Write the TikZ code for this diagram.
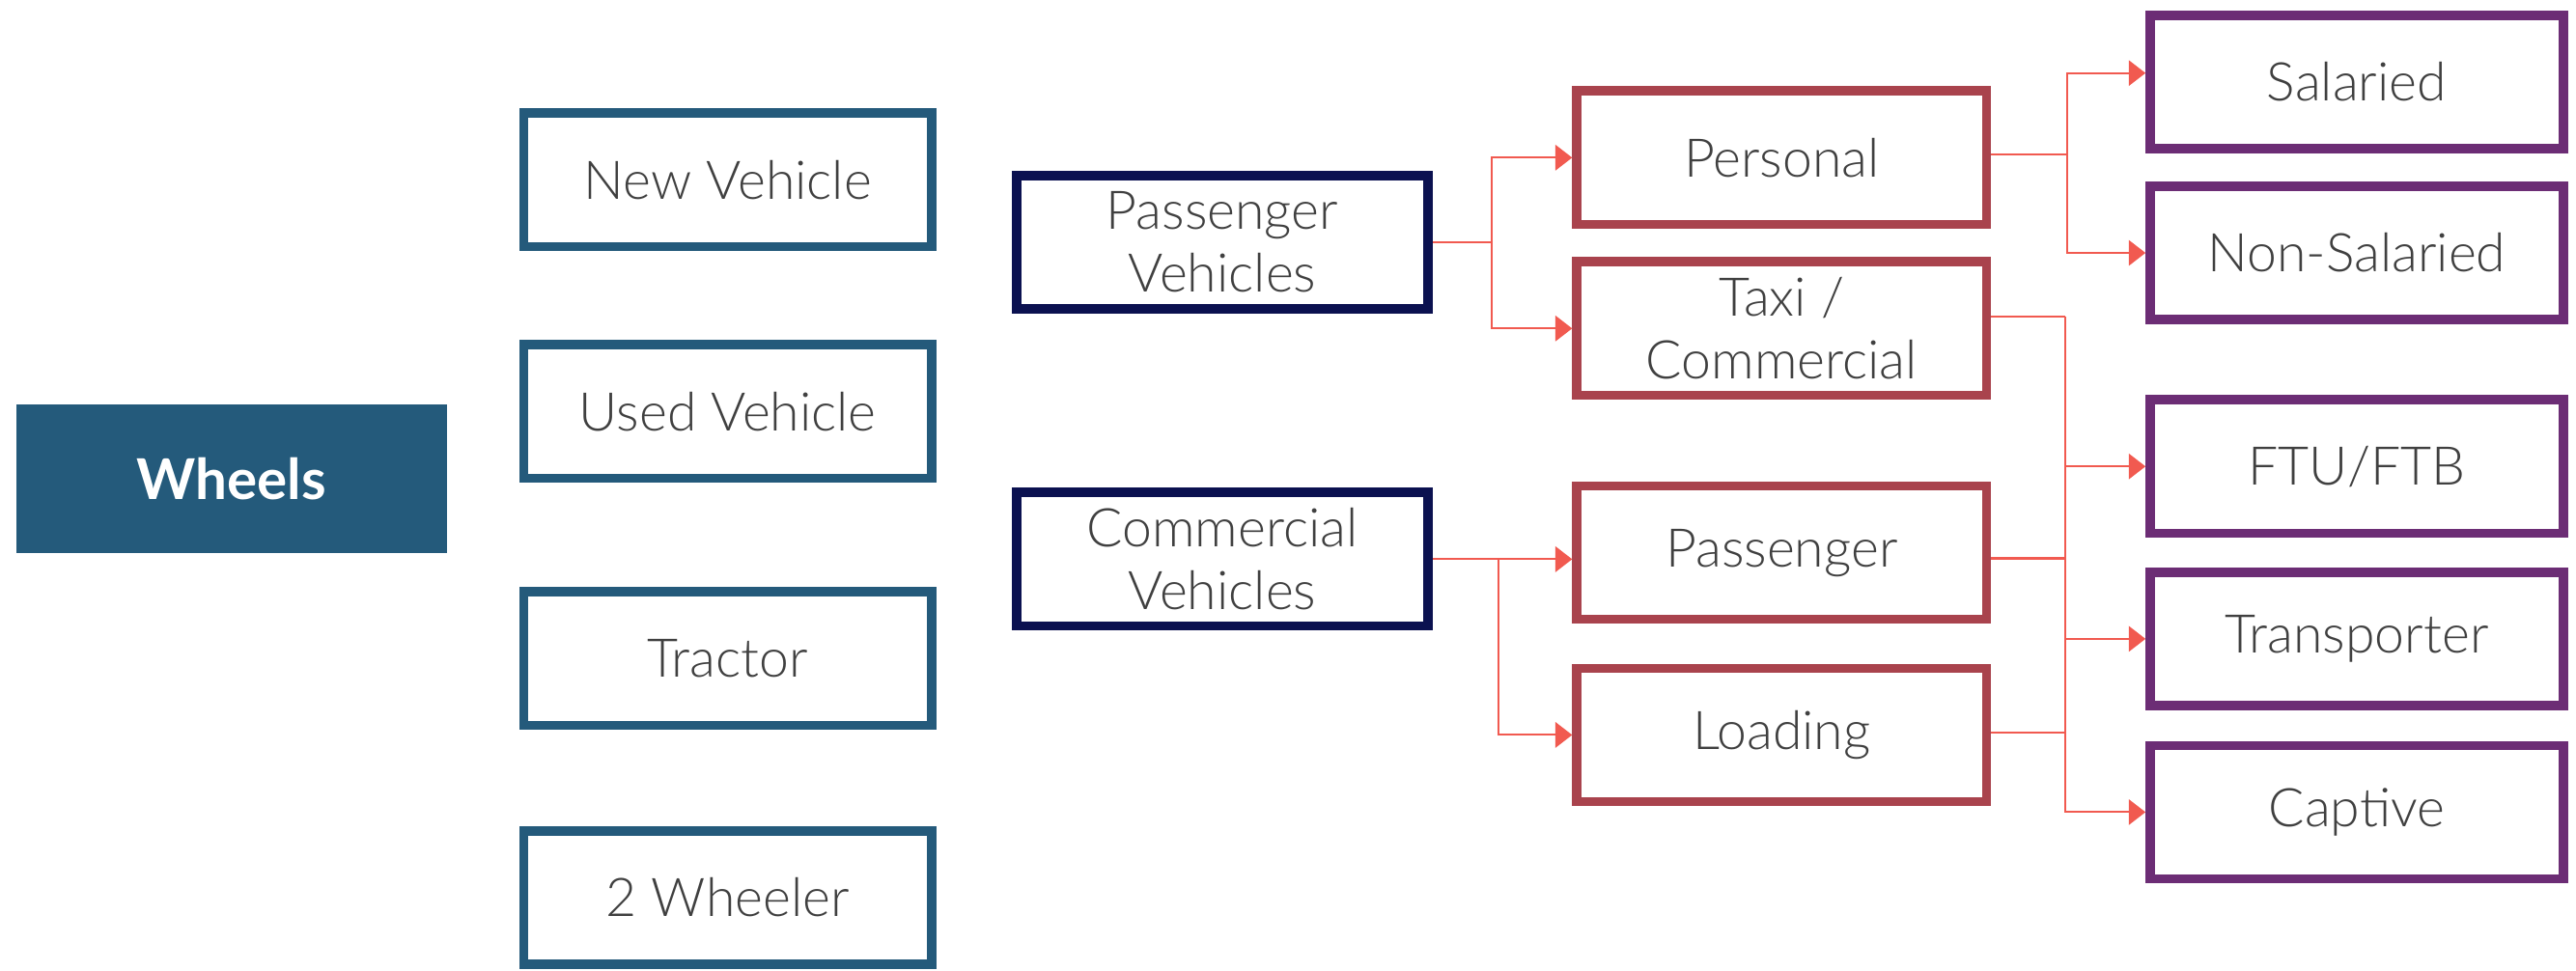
\documentclass[tikz,border=0pt]{standalone}
\usepackage{fontspec}
\setmainfont{Lato}[UprightFont={* Light},BoldFont={* Bold}]
\usetikzlibrary{arrows.meta,calc}
\definecolor{wheelblue}{HTML}{245A7B}
\definecolor{navyc}{HTML}{0B1150}
\definecolor{boxred}{HTML}{A9434D}
\definecolor{purplec}{HTML}{6C2D75}
\definecolor{connc}{HTML}{F15A50}
\definecolor{textgrey}{HTML}{404040}
\begin{document}
\begin{tikzpicture}[x=0.02cm,y=-0.02cm,
  base/.style={draw, line width=3.2pt, fill=white, text=textgrey, align=center,
    font=\fontsize{18.5}{20.8}\selectfont, inner sep=0pt, outer sep=0.5\pgflinewidth,
    minimum height=1.625cm},
  lbox/.style={base, draw=wheelblue, minimum width=4.97cm},
  nbox/.style={base, draw=navyc, minimum width=5.01cm},
  rbox/.style={base, draw=boxred, minimum width=4.99cm},
  pbox/.style={base, draw=purplec, minimum width=5.03cm},
  conn/.style={draw=connc, line width=0.7pt},
  arr/.style={conn, -{Triangle[length=5.8pt,width=8.8pt]}}
]
\useasboundingbox (0,0) rectangle (1568,590.65);

\node[fill=wheelblue, text=white, font=\bfseries\fontsize{19.5}{22}\selectfont,
  minimum width=5.24cm, minimum height=1.82cm, inner sep=0pt] (wheels) at (141,291.5) {Wheels};

\node[lbox] (newv) at (443,109.5) {New Vehicle};
\node[lbox] (usedv) at (443,250.5) {Used Vehicle};
\node[lbox] (tractor) at (443,401) {Tractor};
\node[lbox] (twow) at (443,546.5) {2 Wheeler};

\node[nbox] (pv) at (744,147.5) {\raisebox{-2pt}{Passenger}\\\raisebox{-3pt}{Vehicles}};
\node[nbox] (cv) at (744,340.5) {\raisebox{-2pt}{Commercial}\\\raisebox{-3pt}{Vehicles}};

\node[rbox] (personal) at (1084.5,96) {Personal};
\node[rbox] (taxi) at (1084.5,200) {\raisebox{-2pt}{Taxi /}\\\raisebox{-3pt}{Commercial}};
\node[rbox] (passenger) at (1084.5,336.5) {Passenger};
\node[rbox] (loading) at (1084.5,447.5) {Loading};

\node[pbox] (salaried) at (1434.5,50) {Salaried};
\node[pbox] (nonsal) at (1434.5,154) {Non-Salaried};
\node[pbox] (ftu) at (1434.5,284) {FTU/FTB};
\node[pbox] (transp) at (1434.5,389) {Transporter};
\node[pbox] (captive) at (1434.5,494.5) {Captive};

% Passenger Vehicles branch
\coordinate (j1) at (908,147.5);
\draw[conn] (pv.east) -- (j1);
\draw[arr] (j1) |- (personal.west);
\draw[arr] (j1) |- (taxi.west);

% Commercial Vehicles branch
\coordinate (j2) at (912,340.5);
\draw[arr] (cv.east) -- (cv.east -| passenger.west);
\draw[arr] (j2) |- (loading.west);

% Personal branch
\coordinate (j3) at (1258,94);
\draw[conn] (personal.east |- j3) -- (j3);
\draw[arr] (j3) |- ($(salaried.west)+(0,-5.5)$);
\draw[arr] (j3) |- (nonsal.west);

% Taxi / Passenger / Loading branch
\coordinate (j4) at (1257,193);
\draw[conn] (taxi.east |- j4) -- (j4);
\draw[conn] (passenger.east |- 0,340) -- (j4 |- 0,340);
\draw[conn] (loading.east |- 0,446) -- (j4 |- 0,446);
\draw[arr] (j4) |- (ftu.west);
\draw[arr] (j4) |- (transp.west);
\draw[arr] (j4) |- (captive.west);
\end{tikzpicture}
\end{document}
